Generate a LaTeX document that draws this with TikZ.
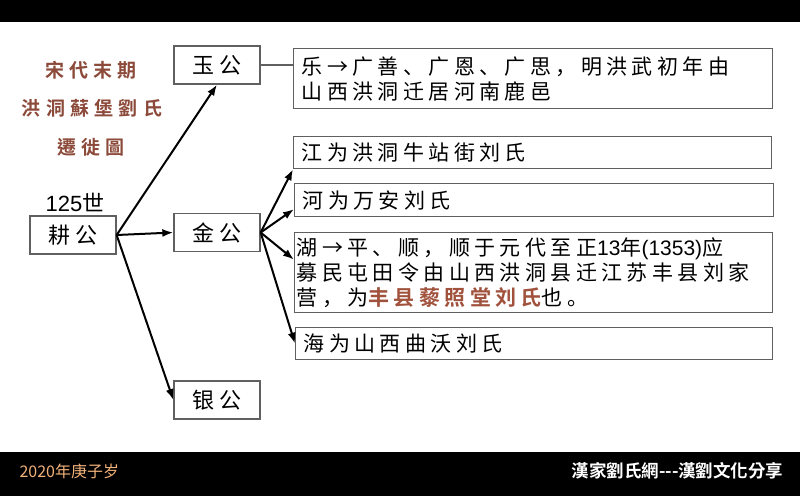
\documentclass[tikz,border=0pt]{standalone}
\usepackage{fontspec}
\usetikzlibrary{arrows.meta,calc}
\setmainfont{Noto Sans CJK SC}
\newfontfamily\boxfont[LetterSpace=21]{Noto Sans CJK SC}
\newfontfamily\titlefont[LetterSpace=28]{Noto Sans CJK TC Bold}
\newfontfamily\footfont{Noto Sans CJK TC}
\newfontfamily\footbold{Noto Sans CJK TC Bold}
\newfontfamily\latinfont{Liberation Sans}
\newfontfamily\boldbox[LetterSpace=21]{Noto Sans CJK SC Bold}
\definecolor{titlebrown}{HTML}{8C4A3A}
\definecolor{hilite}{HTML}{A0523C}
\definecolor{footorange}{HTML}{F2B27A}
\definecolor{boxgray}{HTML}{606060}
\newcommand{\lt}[1]{{\latinfont #1}}
\begin{document}
\begin{tikzpicture}[x=1pt,y=-1pt,
  smallbox/.style={draw=boxgray,line width=1.3pt,minimum width=86pt,minimum height=38pt,inner sep=0pt,font=\fontsize{22}{24}\boxfont},
  infobox/.style={draw=boxgray,line width=1.3pt,anchor=north west,inner ysep=0pt,inner xsep=8pt,align=left,font=\fontsize{21}{25}\boxfont},
  titletext/.style={text=titlebrown,font=\fontsize{19}{21}\titlefont},
  conn/.style={line width=2pt,-{Latex[length=11pt,width=8pt]}}
]
\path[use as bounding box,fill=white] (0,0) rectangle (800,496);
\fill[black] (0,0) rectangle (800,22);
\fill[black] (0,452) rectangle (800,496);

% title
\node[titletext] (t1) at (91,70) {宋代末期};
\node[titletext] (t2) at (92,108) {洪洞蘇堡劉氏};
\node[titletext] (t3) at (91,147) {遷徙圖};

% generation boxes
\node[smallbox] (geng) at (73,235) {耕公};
\node[font=\fontsize{22}{24}\selectfont] (gen) at (75,202) {\lt{125}世};
\node[smallbox] (yu) at (217,65) {玉公};
\node[smallbox] (jin) at (217,232.5) {金公};
\node[smallbox] (yin) at (217,400) {银公};

% info boxes
\node[infobox,minimum width=479pt,minimum height=60pt,text width=463pt] (b1) at (293,48)
  {乐→广善、广恩、广思，明洪武初年由\\山西洪洞迁居河南鹿邑};
\node[infobox,minimum width=478pt,minimum height=32pt,text width=462pt] (b2) at (293,136)
  {江为洪洞牛站街刘氏};
\node[infobox,minimum width=479pt,minimum height=33pt,text width=463pt] (b3) at (294,183)
  {河为万安刘氏};
\node[infobox,inner xsep=2pt,minimum width=478pt,minimum height=80pt,text width=474pt] (b4) at (294,232)
  {湖→平、顺，顺于元代至正\lt{13}年\lt{(1353)}应\\募民屯田令由山西洪洞县迁江苏丰县刘家\\营，为{\boldbox\color{hilite}丰县藜照堂刘氏}也。};
\node[infobox,minimum width=477pt,minimum height=32pt,text width=461pt] (b5) at (295,327)
  {海为山西曲沃刘氏};

% connectors
\draw[line width=1.3pt,draw=boxgray] (yu.east) -- (yu.east -| b1.west);
\draw[conn] (geng.east) -- (yu.south);
\draw[conn] (geng.east) -- (jin.west);
\draw[conn] (geng.east) -- (yin.west);
\draw[conn] (jin.east) -- (b2.south west);
\draw[conn] (jin.east) -- ([yshift=-9pt]b3.west);
\draw[conn] (jin.east) -- ([yshift=13pt]b4.west);
\draw[conn] (jin.east) -- (b5.west);

% footer
\node[anchor=west,text=footorange,font=\fontsize{16}{18}\footfont] (f1) at (16,471) {2020年庚子岁};
\node[anchor=east,text=white,font=\fontsize{17.5}{19}\footbold] (f2) at (787,471) {漢家劉氏網---漢劉文化分享};
\end{tikzpicture}
\end{document}
